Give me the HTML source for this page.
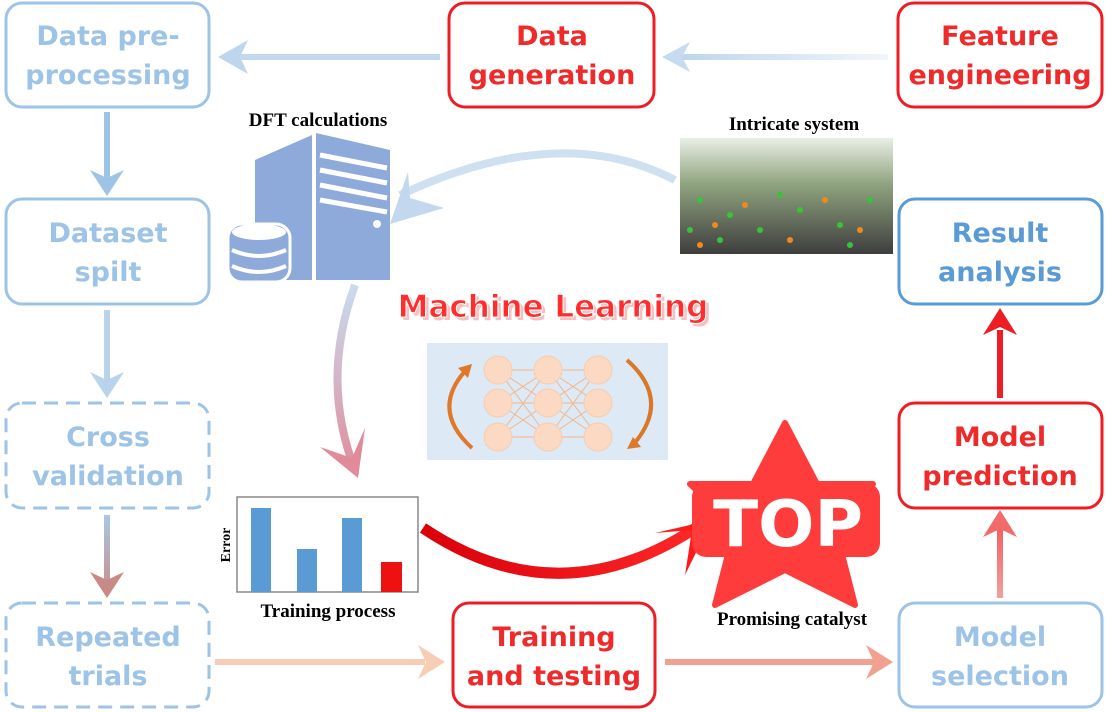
<!DOCTYPE html>
<html><head><meta charset="utf-8"><style>
body{margin:0;background:#fff;width:1106px;height:712px;overflow:hidden}
svg{display:block}
.t{font-family:"DejaVu Sans","Liberation Sans",sans-serif;font-weight:bold;font-size:27px;text-anchor:middle}
.s{font-family:"Liberation Serif",serif;font-weight:bold;font-size:19px;text-anchor:middle;fill:#000}
</style></head><body>
<svg width="1106" height="712" viewBox="0 0 1106 712">
<defs>
<linearGradient id="gv" gradientUnits="userSpaceOnUse" x1="0" y1="285" x2="0" y2="478"><stop offset="0" stop-color="#c8dcef"/><stop offset="1" stop-color="#e08a9a"/></linearGradient>
<linearGradient id="gcv" gradientUnits="userSpaceOnUse" x1="0" y1="515" x2="0" y2="598"><stop offset="0" stop-color="#a9c7e4"/><stop offset="1" stop-color="#c98a86"/></linearGradient>
<linearGradient id="gh" gradientUnits="userSpaceOnUse" x1="888" y1="0" x2="662" y2="0"><stop offset="0" stop-color="#f2f6fb"/><stop offset="1" stop-color="#b9d3ec"/></linearGradient>
<linearGradient id="gr" gradientUnits="userSpaceOnUse" x1="423" y1="0" x2="712" y2="0"><stop offset="0" stop-color="#d9000a"/><stop offset="1" stop-color="#ff2a2a"/></linearGradient>
<linearGradient id="gmp" gradientUnits="userSpaceOnUse" x1="0" y1="600" x2="0" y2="510"><stop offset="0" stop-color="#f5a0a0"/><stop offset="1" stop-color="#f25050"/></linearGradient>
<linearGradient id="gimg" x1="0" y1="0" x2="0" y2="1"><stop offset="0" stop-color="#e9efe6"/><stop offset="0.4" stop-color="#8fa37e"/><stop offset="1" stop-color="#3e3e3e"/></linearGradient>
</defs>

<g fill="#fff" stroke-width="3">
<rect x="6" y="3" width="203" height="104" rx="16" stroke="#9dc3e6"/>
<rect x="6" y="199" width="203" height="105" rx="16" stroke="#9dc3e6"/>
<rect x="6" y="403" width="203" height="105" rx="16" stroke="#9dc3e6" stroke-dasharray="14 8"/>
<rect x="6" y="603" width="203" height="104" rx="16" stroke="#9dc3e6" stroke-dasharray="14 8"/>
<rect x="449" y="3" width="205" height="104" rx="16" stroke="#ee1c25"/>
<rect x="898" y="3" width="204" height="104" rx="16" stroke="#ee1c25"/>
<rect x="899" y="199" width="203" height="105" rx="16" stroke="#5b9bd5"/>
<rect x="899" y="403" width="203" height="105" rx="16" stroke="#ee1c25"/>
<rect x="899" y="603" width="203" height="104" rx="16" stroke="#9dc3e6"/>
<rect x="453" y="603" width="202" height="104" rx="16" stroke="#ee1c25"/>
</g>
<g class="t">
<text x="108" y="45" fill="#9dc3e6">Data pre-</text><text x="108" y="84" fill="#9dc3e6">processing</text>
<text x="108" y="242" fill="#9dc3e6">Dataset</text><text x="108" y="281" fill="#9dc3e6">spilt</text>
<text x="108" y="446" fill="#9dc3e6">Cross</text><text x="108" y="485" fill="#9dc3e6">validation</text>
<text x="108" y="646" fill="#9dc3e6">Repeated</text><text x="108" y="685" fill="#9dc3e6">trials</text>
<text x="552" y="45" fill="#ee2a2a">Data</text><text x="552" y="84" fill="#ee2a2a">generation</text>
<text x="1000" y="45" fill="#ee2a2a">Feature</text><text x="1000" y="84" fill="#ee2a2a">engineering</text>
<text x="1000" y="242" fill="#5b9bd5">Result</text><text x="1000" y="281" fill="#5b9bd5">analysis</text>
<text x="1000" y="446" fill="#ee2a2a">Model</text><text x="1000" y="485" fill="#ee2a2a">prediction</text>
<text x="1000" y="646" fill="#9dc3e6">Model</text><text x="1000" y="685" fill="#9dc3e6">selection</text>
<text x="554" y="646" fill="#ee2a2a">Training</text><text x="554" y="685" fill="#ee2a2a">and testing</text>
</g>

<g fill="none" stroke-width="6">
<path d="M888 57 H680" stroke="url(#gh)"/>
<path d="M440 57 H240" stroke="#c3d8ee"/>
<path d="M107 112 V180" stroke="#9dc3e6"/>
<path d="M107 310 V382" stroke="#b9d3ec"/>
<path d="M107 515 V582" stroke="url(#gcv)"/>
<path d="M215 662 H425" stroke="#f7cdb6"/>
<path d="M665 662 H875" stroke="#f2a090"/>
<path d="M1000 598 V525" stroke="url(#gmp)"/>
<path d="M1000 398 V330" stroke="#ee1c25"/>
</g>
<g>
<path d="M662 57 L690 42 L682 57 L690 72 Z" fill="#c6dbef"/>
<path d="M218 57 L248 40 L240 57 L248 74 Z" fill="#bed6ec"/>
<path d="M107 196 L90 170 L107 178 L124 170 Z" fill="#9dc3e6"/>
<path d="M107 398 L90 372 L107 380 L124 372 Z" fill="#b9d3ec"/>
<path d="M107 598 L90 572 L107 580 L124 572 Z" fill="#c98a86"/>
<path d="M445 662 L418 645 L426 662 L418 679 Z" fill="#f7cdb6"/>
<path d="M893 662 L866 645 L874 662 L866 679 Z" fill="#f2a090"/>
<path d="M1000 510 L983 537 L1000 529 L1017 537 Z" fill="#f26a6a"/>
<path d="M1000 308 L983 335 L1000 327 L1017 335 Z" fill="#ee1c25"/>
</g>

<path d="M675 180 Q560 120 400 195" fill="none" stroke="#cfe0f1" stroke-width="8"/>
<path d="M390 224 L408 172 L410 198 L444 208 Z" fill="#c3d8ee"/>
<path d="M355 285 Q320 380 355 470" fill="none" stroke="url(#gv)" stroke-width="8"/>
<path d="M358 478 L320 447 L352 458 L365 428 Z" fill="#e08a9a"/>
<path d="M423 528 Q560 620 700 525" fill="none" stroke="url(#gr)" stroke-width="11"/>
<path d="M712 520 L655 533 L692 530 L685 575 Z" fill="#ff1a1a"/>

<g fill="#8eaadb">
<path d="M255 160 L312 135 L312 280 L255 280 Z"/>
<path d="M316 133 L390 150 L390 280 L316 280 Z"/>
</g>
<g stroke="#fff" stroke-width="5" fill="none">
<path d="M320 155 L387 168"/><path d="M320 170 L387 183"/><path d="M320 185 L387 198"/><path d="M320 200 L387 212"/>
</g>
<circle cx="377" cy="224" r="4" fill="#fff"/>
<rect x="228" y="224" width="62" height="58" rx="14" fill="#8eaadb" stroke="#fff" stroke-width="3"/>
<ellipse cx="259" cy="232" rx="27" ry="8" fill="#fff"/>
<path d="M232 250 Q259 262 286 250 M232 266 Q259 278 286 266" stroke="#fff" stroke-width="4" fill="none"/>
<text class="s" x="318" y="126">DFT calculations</text>

<text class="s" x="794" y="130">Intricate system</text>
<rect x="680" y="138" width="213" height="116" fill="url(#gimg)"/>
<g fill="#39c23a">
<circle cx="700" cy="200" r="3"/><circle cx="730" cy="215" r="3"/><circle cx="760" cy="230" r="3"/><circle cx="800" cy="210" r="3"/><circle cx="840" cy="225" r="3"/><circle cx="870" cy="200" r="3"/><circle cx="720" cy="240" r="3"/><circle cx="780" cy="195" r="3"/><circle cx="850" cy="245" r="3"/><circle cx="690" cy="230" r="3"/>
</g>
<g fill="#f08a20">
<circle cx="715" cy="225" r="3"/><circle cx="745" cy="205" r="3"/><circle cx="790" cy="240" r="3"/><circle cx="825" cy="200" r="3"/><circle cx="860" cy="230" r="3"/><circle cx="700" cy="245" r="3"/>
</g>

<text x="556" y="320" font-family="DejaVu Sans,sans-serif" font-weight="bold" font-size="31" text-anchor="middle" fill="#f4c0c0">Machine Learning</text>
<text x="553" y="317" font-family="DejaVu Sans,sans-serif" font-weight="bold" font-size="31" text-anchor="middle" fill="#ff2d2d" stroke="#fff" stroke-width="1">Machine Learning</text>
<rect x="427" y="343" width="241" height="117" fill="#dde9f5"/>
<g stroke="#f2b58a" stroke-width="1">
<path d="M498 370 L548 370 L598 370 M498 403 L548 403 L598 403 M498 437 L548 437 L598 437 M498 370 L548 437 M498 437 L548 370 M498 370 L548 403 M498 403 L548 370 M498 403 L548 437 M498 437 L548 403 M548 370 L598 437 M548 437 L598 370 M548 370 L598 403 M548 403 L598 370 M548 403 L598 437 M548 437 L598 403"/>
</g>
<g fill="#fbd9c2" stroke="#f6cdb0">
<circle cx="498" cy="370" r="14"/><circle cx="498" cy="403" r="14"/><circle cx="498" cy="437" r="14"/>
<circle cx="548" cy="370" r="14"/><circle cx="548" cy="403" r="14"/><circle cx="548" cy="437" r="14"/>
<circle cx="598" cy="370" r="14"/><circle cx="598" cy="403" r="14"/><circle cx="598" cy="437" r="14"/>
</g>
<path d="M472 448 Q430 410 466 370" fill="none" stroke="#e0782a" stroke-width="4"/>
<path d="M472 364 L458 368 L468 378 Z" fill="#e0782a"/>
<path d="M627 360 Q672 400 633 445" fill="none" stroke="#d9772a" stroke-width="4"/>
<path d="M627 449 L641 447 L633 437 Z" fill="#e0782a"/>

<rect x="237" y="497" width="181" height="95" fill="#fff" stroke="#888" stroke-width="1.5"/>
<g fill="#5b9bd5">
<rect x="251" y="508" width="20" height="84"/><rect x="297" y="549" width="20" height="43"/><rect x="342" y="518" width="20" height="74"/>
</g>
<rect x="381" y="562" width="21" height="30" fill="#ee1111"/>
<text x="230" y="545" font-family="Liberation Serif,serif" font-weight="bold" font-size="14" text-anchor="middle" transform="rotate(-90 230 545)">Error</text>
<text class="s" x="328" y="617">Training process</text>

<path d="M785 423 L817 484 L873 484 L835 527 L855 605 L785 570 L715 605 L735 527 L690 484 L753 484 Z" fill="#ff3c3c" stroke="#ff3c3c" stroke-linejoin="round" stroke-width="6"/>
<rect x="692" y="483" width="188" height="74" rx="14" fill="#ff3c3c"/>
<text x="788" y="546" font-family="DejaVu Sans,sans-serif" font-weight="bold" font-size="64" text-anchor="middle" fill="#fff" stroke="#ff3c3c" stroke-width="6" paint-order="stroke" textLength="150" lengthAdjust="spacingAndGlyphs">TOP</text>
<text class="s" x="792" y="625">Promising catalyst</text>
</svg>
</body></html>
